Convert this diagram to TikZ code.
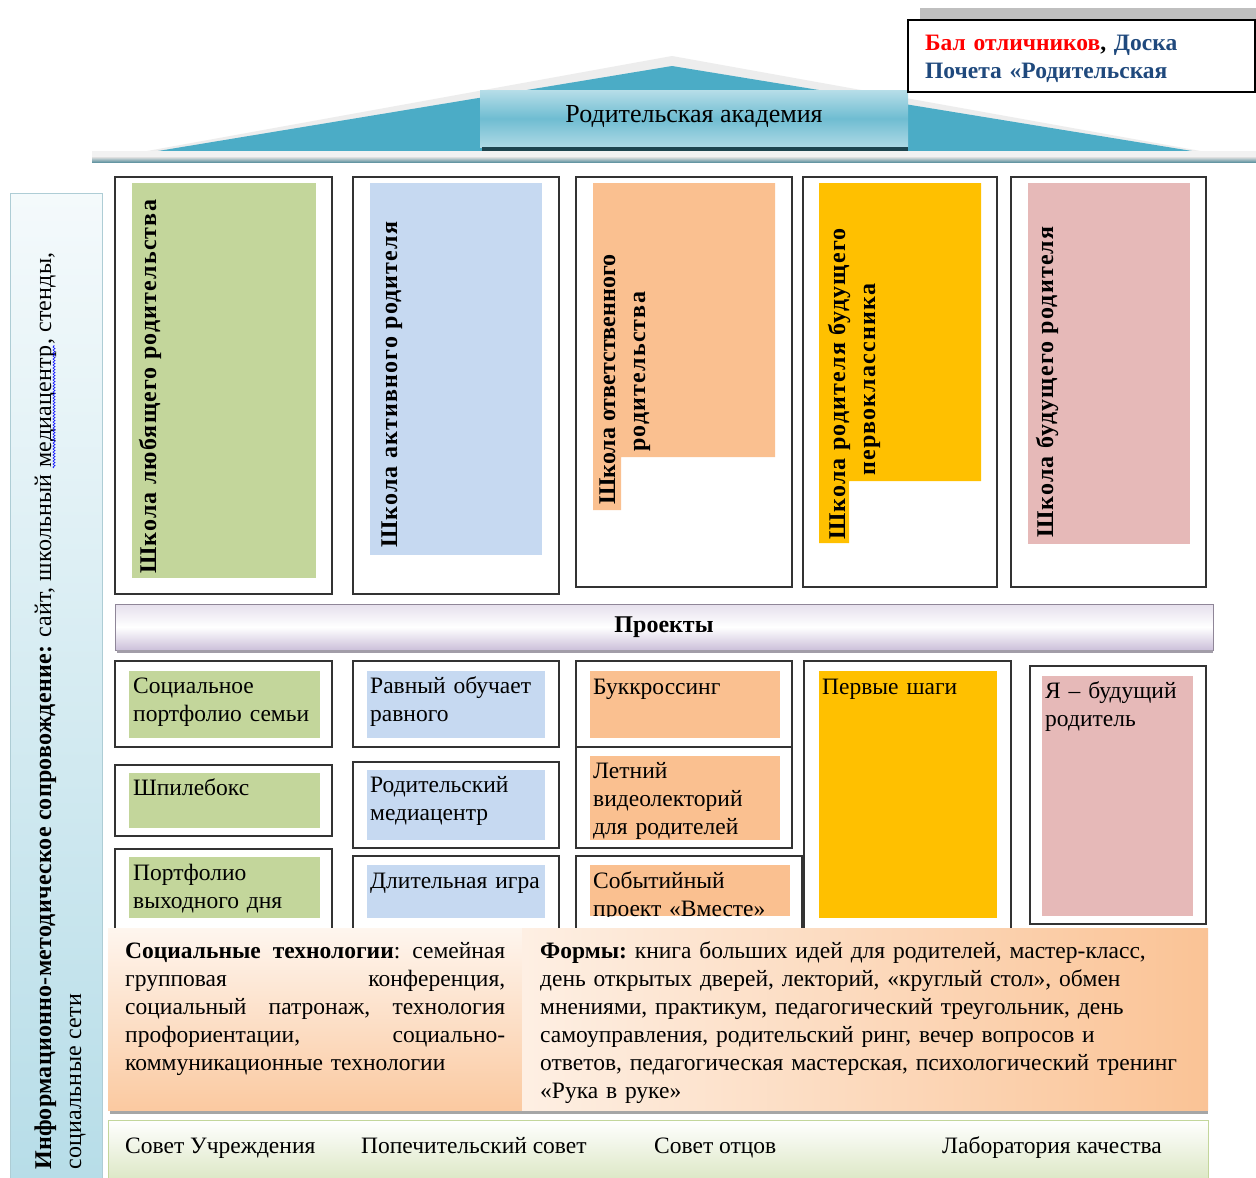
\documentclass[tikz,border=0pt]{standalone}
\usepackage{fontspec}
\setmainfont{Liberation Serif}
\usetikzlibrary{decorations.pathmorphing,calc}
\definecolor{cgreen}{HTML}{C3D69B}
\definecolor{cblue}{HTML}{C6D9F1}
\definecolor{corange}{HTML}{FAC090}
\definecolor{cyellow}{HTML}{FFC000}
\definecolor{cpink}{HTML}{E6B9B8}
\definecolor{cteal}{HTML}{4BACC6}
\definecolor{cnavy}{HTML}{1F497D}
\definecolor{cframe}{HTML}{333333}
\definecolor{cpurple}{HTML}{CCC0DA}
\definecolor{cband}{HTML}{B7DDE8}
\begin{document}
\begin{tikzpicture}[x=1pt,y=-1pt,
  frame/.style={draw=cframe,line width=1.3pt,fill=white},
  body/.style={font=\fontsize{23.5}{28}\selectfont\frenchspacing,inner sep=0pt,anchor=base west,align=left},
  vtitle/.style={font=\fontsize{24}{30}\selectfont\bfseries\addfontfeature{LetterSpace=5},inner sep=0pt,anchor=base west,rotate=90},
  vband/.style={font=\fontsize{24}{30}\selectfont\addfontfeature{LetterSpace=1},inner sep=0pt,anchor=base west,rotate=90},
]
\useasboundingbox (0,0) rectangle (1256,1178);
\fill[white] (0,0) rectangle (1256,1178);

% roof
\fill[black!7] (92,161) -- (672,56) -- (1256,161) -- cycle;
\fill[cteal] (158,151) -- (672,66) -- (1192,151) -- cycle;
\fill[black!5] (92,151) rectangle (1256,157);
\fill[top color=black!12,bottom color=cteal!50!gray] (92,157) rectangle (1256,162);
% academy
\shade[top color=cteal!40,bottom color=cteal!45,middle color=cteal!80] (480,90) rectangle (908,147);
\fill[cteal!40!black] (482,147) rectangle (908,151);
\node[font=\fontsize{26}{30}\selectfont,inner sep=0pt] (acad) at (694,116) {Родительская академия};

% note
\fill[black!25] (920,8) rectangle (1256,20);
\draw[fill=white,line width=1.2pt] (908,20) rectangle (1255,92);
\node[body,text width=330pt,font=\fontsize{23.5}{28}\selectfont\bfseries] (note) at (925,50)
  {\textcolor{red}{Бал отличников}, \textcolor{cnavy}{Доска}\\\textcolor{cnavy}{Почета «Родительская}};

% left band
\shade[top color=cband!15,bottom color=cband,draw=cband!90!black!90] (10,193) rectangle (102,1182);
\node[vband,font=\fontsize{24}{30}\selectfont\bfseries\addfontfeature{LetterSpace=1}] (info1) at (51,1170) {Информационно-методическое сопровождение:\mdseries{} сайт, школьный};
\node[vband] (infomc) at ($(info1.base east)+(0,-6)$) {медиацентр};
\node[vband] (infoend) at (infomc.base east) {, стенды,};
\draw[blue,line width=0.6pt,decorate,decoration={snake,amplitude=1pt,segment length=3pt}]
  ([xshift=3pt]infomc.base west) -- ([xshift=3pt]infomc.base east);
\node[vband] (info2) at (81,1170) {социальные сети};

% schools
\draw[frame] (115,177) rectangle (332,594);
\fill[cgreen] (132,183) rectangle (316,578);
\node[vtitle] (s1) at (156,574) {Школа любящего родительства};

\draw[frame] (353,177) rectangle (559,594);
\fill[cblue] (370,183) rectangle (542,555);
\node[vtitle] (s2) at (397,548) {Школа активного родителя};

\draw[frame] (576,177) rectangle (792,587);
\fill[corange] (593,183) -- (775,183) -- (775,457) -- (621,457) -- (621,510) -- (593,510) -- cycle;
\node[vtitle,font=\fontsize{24}{30}\selectfont\bfseries] (s3a) at (615,505) {Школа ответственного};
\node[vtitle] (s3b) at (645,452) {родительства};

\draw[frame] (803,177) rectangle (997,587);
\fill[cyellow] (819,183) -- (981,183) -- (981,481) -- (849,481) -- (849,543) -- (819,543) -- cycle;
\node[vtitle] (s4a) at (845,540) {Школа родителя будущего};
\node[vtitle] (s4b) at (875,476) {первоклассника};

\draw[frame] (1011,177) rectangle (1206,587);
\fill[cpink] (1028,183) rectangle (1190,544);
\node[vtitle] (s5) at (1053,538) {Школа будущего родителя};

% projects bar
\shade[top color=cpurple!50,bottom color=cpurple,middle color=white] (115,604) rectangle (1213,650);
\draw[cpurple!70!black] (115,604) rectangle (1213,650);
\fill[cpurple!60!black!70] (117,650) rectangle (1213,653);
\node[font=\fontsize{24}{28}\selectfont\bfseries,inner sep=0pt] (proj) at (664,627) {Проекты};

% projects grid
\draw[frame] (115,661) rectangle (332,747);
\fill[cgreen] (129,671) rectangle (320,738);
\node[body,text width=195pt] (pA) at (133,693) {Социальное\\портфолио семьи};

\draw[frame] (115,765) rectangle (332,836);
\fill[cgreen] (129,773) rectangle (320,828);
\node[body,text width=190pt] (pB) at (133,795) {Шпилебокс};

\draw[frame] (115,849) rectangle (332,940);
\fill[cgreen] (129,857) rectangle (320,918);
\node[body,text width=190pt] (pC) at (133,880) {Портфолио\\выходного дня};

\draw[frame] (353,661) rectangle (559,747);
\fill[cblue] (367,671) rectangle (545,738);
\node[body,text width=185pt] (pD) at (370,693) {Равный обучает\\равного};

\draw[frame] (353,762) rectangle (559,848);
\fill[cblue] (367,770) rectangle (545,840);
\node[body,text width=180pt] (pE) at (370,792) {Родительский\\медиацентр};

\draw[frame] (353,856) rectangle (559,940);
\fill[cblue] (367,865) rectangle (545,918);
\node[body,text width=185pt] (pF) at (370,888) {Длительная игра};

\draw[frame] (576,661) rectangle (792,747);
\fill[corange] (590,671) rectangle (780,738);
\node[body,text width=190pt] (pG) at (593,694) {Буккроссинг};

\draw[frame] (576,747) rectangle (792,848);
\fill[corange] (590,756) rectangle (780,840);
\node[body,text width=190pt] (pH) at (593,778) {Летний\\видеолекторий\\для родителей};

\draw[frame] (576,856) rectangle (802,940);
\fill[corange] (590,865) rectangle (790,916);
\begin{scope}
\clip (580,860) rectangle (798,916);
\node[body,text width=200pt] (pI) at (593,888) {Событийный\\проект «Вместе»};
\end{scope}

\draw[frame] (804,661) rectangle (1011,940);
\fill[cyellow] (819,671) rectangle (997,918);
\node[body,text width=170pt] (pJ) at (822,694) {Первые шаги};

\draw[frame] (1030,666) rectangle (1206,924);
\fill[cpink] (1042,676) rectangle (1193,916);
\node[body,text width=150pt] (pK) at (1045,698) {Я – будущий\\родитель};

% orange panel
\fill[black!35] (110,1108) rectangle (1208,1114);
\shade[top color=corange!15,bottom color=corange!85] (108,928) rectangle (522,1110);
\shade[shading angle=120,left color=corange!25,right color=corange!95] (522,928) rectangle (1208,1110);
\node[body,text width=380pt] (tech) at (125,958) {%
\makebox[380pt][l]{\textbf{Социальные}\hfill\textbf{технологии}:\hfill семейная}\\
\makebox[380pt][l]{групповая\hfill конференция,}\\
\makebox[380pt][l]{социальный\hfill патронаж,\hfill технология}\\
\makebox[380pt][l]{профориентации,\hfill социально-}\\
коммуникационные технологии};
\node[body,text width=665pt] (forms) at (540,958) {%
\textbf{Формы:} книга больших идей для родителей, мастер-класс,\\
день открытых дверей, лекторий, «круглый стол», обмен\\
мнениями, практикум, педагогический треугольник, день\\
самоуправления, родительский ринг, вечер вопросов и\\
ответов, педагогическая мастерская, психологический тренинг\\
«Рука в руке»};

% green panel
\shade[top color=white,bottom color=cgreen!60,draw=cgreen] (108,1120) rectangle (1208,1182);
\node[body] (g1) at (125,1153) {Совет Учреждения};
\node[body] (g2) at (361,1153) {Попечительский совет};
\node[body] (g3) at (654,1153) {Совет отцов};
\node[body] (g4) at (942,1153) {Лаборатория качества};
\end{tikzpicture}
\end{document}
